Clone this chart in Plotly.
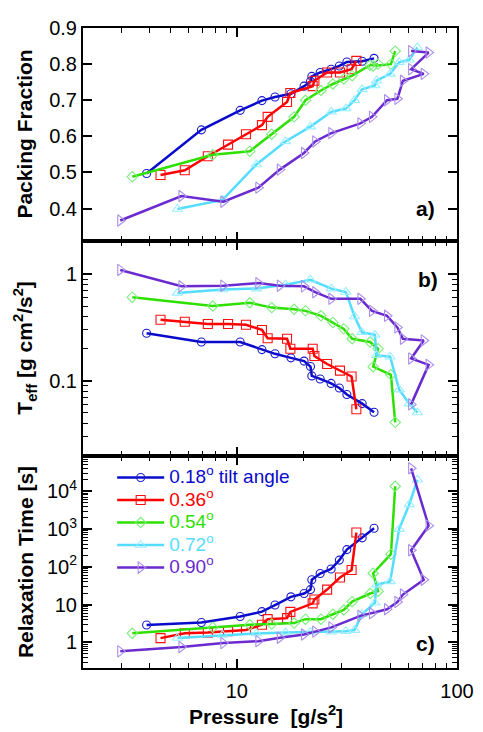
import numpy as np
import plotly.graph_objects as go
from plotly.subplots import make_subplots

# ---------------- data ----------------
labels = ["0.18<sup>o</sup> tilt angle", "0.36<sup>o</sup>", "0.54<sup>o</sup>",
          "0.72<sup>o</sup>", "0.90<sup>o</sup>"]

p_018 = [3.89, 6.9, 10.35, 13.0, 14.9, 17.6, 20.2, 21.6, 21.9, 23.9, 26.8, 29.2, 31.6, 37.1, 42.0]
phi_018 = [0.497, 0.618, 0.672, 0.699, 0.709, 0.718, 0.739, 0.752, 0.766, 0.777, 0.786, 0.795, 0.806, 0.808, 0.816]
teff_018 = [0.279, 0.231, 0.231, 0.196, 0.179, 0.164, 0.153, 0.136, 0.111, 0.104, 0.0944, 0.0856, 0.0743, 0.061, 0.0506]
tau_018 = [2.89, 3.38, 4.84, 6.53, 9.77, 16.1, 19.7, 25, 45.5, 66.5, 88, 151, 286, 586, 1048]

p_036 = [4.5, 5.8, 7.38, 9.12, 11.0, 13.0, 13.8, 16.9, 17.5, 22.1, 22.5, 25.7, 29.4, 33.2, 34.9]
phi_036 = [0.493, 0.506, 0.545, 0.577, 0.606, 0.631, 0.654, 0.695, 0.72, 0.739, 0.754, 0.777, 0.777, 0.786, 0.809]
teff_036 = [0.374, 0.358, 0.341, 0.341, 0.336, 0.30, 0.251, 0.248, 0.20, 0.20, 0.171, 0.1436, 0.1245, 0.1096, 0.054]
tau_036 = [1.3, 1.75, 1.82, 1.97, 2.14, 2.94, 4.13, 4.39, 6.42, 10.8, 13.7, 25, 52.3, 82.8, 810]

p_054 = [3.35, 7.77, 11.45, 14.4, 18.2, 20.5, 24.1, 27.3, 30.6, 33.4, 40.3, 43.8, 41.6, 50.1, 52.4]
phi_054 = [0.488, 0.549, 0.559, 0.606, 0.654, 0.70, 0.727, 0.745, 0.759, 0.768, 0.797, 0.80, 0.795, 0.80, 0.836]
teff_054 = [0.609, 0.503, 0.540, 0.486, 0.469, 0.453, 0.407, 0.353, 0.307, 0.248, 0.231, 0.20, 0.1356, 0.1136, 0.0407]
tau_054 = [1.75, 2.5, 2.94, 3.06, 3.25, 4.13, 4.13, 5.57, 7.23, 12, 19.7, 22.6, 67.7, 217, 13600]

p_072 = [5.37, 8.61, 12.27, 16.62, 21.58, 26.87, 31.27, 34.25, 37.03, 42.36, 43.1, 49.7, 54.6, 60.7, 66.1]
phi_072 = [0.399, 0.424, 0.522, 0.586, 0.627, 0.668, 0.677, 0.70, 0.73, 0.741, 0.754, 0.773, 0.805, 0.812, 0.846]
teff_072 = [0.668, 0.718, 0.733, 0.798, 0.888, 0.733, 0.682, 0.401, 0.285, 0.27, 0.174, 0.168, 0.0826, 0.061, 0.0503]
tau_072 = [1.31, 1.57, 1.72, 1.82, 1.88, 1.93, 1.99, 2.12, 5.6, 11.2, 33.8, 41.2, 1000, 4500, 20200]

p_090 = [2.953, 5.6, 8.68, 12.52, 15.67, 20.18, 22.69, 26.87, 36.4, 41.1, 48.1, 53.6, 56.8, 70.6, 61.9, 74.3, 61.9]
phi_090 = [0.367, 0.435, 0.419, 0.458, 0.508, 0.554, 0.586, 0.609, 0.636, 0.654, 0.70, 0.704, 0.754, 0.773, 0.786, 0.832, 0.836]
teff_090 = [1.098, 0.77, 0.781, 0.826, 0.781, 0.77, 0.678, 0.588, 0.588, 0.453, 0.407, 0.317, 0.248, 0.239, 0.162, 0.141, 0.06]
tau_090 = [0.58, 0.755, 0.96, 1.08, 1.33, 1.62, 1.93, 2.5, 5.05, 5.93, 7.55, 11.7, 18.5, 45.6, 275, 1230, 40700]

x_tickvals = [10, 100]
x_ticktext = ["10", "100"]
phi_tickvals = [0.4, 0.5, 0.6, 0.7, 0.8, 0.9]
teff_tickvals = [0.1, 1]
teff_ticktext = ["0.1", "1"]
tau_tickvals = [1, 10, 100, 1000, 10000]
tau_ticktext = ["1", "10", "10<sup>2</sup>", "10<sup>3</sup>", "10<sup>4</sup>"]

# ---------------- styles ----------------
line_colors = ["#0A0ACC", "#FF0000", "#2EE000", "#55DDFF", "#6A2ACF"]
marker_colors = ["#1A1ACC", "#FF1010", "#7CEE7C", "#99EEFF", "#A98EEA"]
symbols = ["circle-open", "square-open", "diamond-open", "triangle-up-open", "triangle-right-open"]
msizes = [8, 9, 8, 9, 10]

series = [
    (p_018, phi_018, teff_018, tau_018),
    (p_036, phi_036, teff_036, tau_036),
    (p_054, phi_054, teff_054, tau_054),
    (p_072, phi_072, teff_072, tau_072),
    (p_090, phi_090, teff_090, tau_090),
]

FONT = "Liberation Sans"

fig = make_subplots(rows=3, cols=1, shared_xaxes=True, vertical_spacing=0)

for i, (p, phi, teff, tau) in enumerate(series):
    for row, yv in ((1, phi), (2, teff), (3, tau)):
        fig.add_trace(go.Scatter(
            x=p, y=yv, mode="lines+markers",
            line=dict(color=line_colors[i], width=2.5),
            marker=dict(symbol=symbols[i], size=msizes[i], color=marker_colors[i],
                        line=dict(width=1.1, color=marker_colors[i])),
            name=f'<span style="font-size:19px;color:{line_colors[i]}">{labels[i]}</span>',
            showlegend=(row == 3),
        ), row=row, col=1)

def minor_log(lo_exp, hi_exp):
    vals = []
    for e in range(lo_exp, hi_exp + 1):
        for m in range(2, 10):
            vals.append(m * 10.0 ** e)
    return vals

axis_common = dict(showline=True, linewidth=2, linecolor="black", mirror="ticks",
                   ticks="inside", ticklen=9, tickwidth=1.6, tickcolor="black",
                   showgrid=False, zeroline=False, ticklabeloverflow="allow",
                   tickfont=dict(family=FONT, size=20, color="black"))

x_minor = dict(tickmode="array", tickvals=minor_log(0, 1), ticks="inside",
               ticklen=5, tickwidth=1.4, tickcolor="black", showgrid=False)

for r in (1, 2, 3):
    fig.update_xaxes(type="log", range=[np.log10(2), 2], tickmode="array",
                     tickvals=x_tickvals, ticktext=x_ticktext,
                     showticklabels=(r == 3), minor=x_minor, row=r, col=1, **axis_common)
fig.update_xaxes(ticklabelstandoff=4, row=3, col=1)

fig.update_yaxes(range=[0.31, 0.9], tickmode="array", tickvals=phi_tickvals,
                 tickformat=".1f", row=1, col=1, **axis_common)
fig.update_yaxes(type="log", range=[-1.708, 0.311], tickmode="array",
                 tickvals=teff_tickvals, ticktext=teff_ticktext,
                 minor=dict(tickmode="array", tickvals=minor_log(-2, 0), ticks="inside",
                            ticklen=5, tickwidth=1.4, tickcolor="black", showgrid=False),
                 row=2, col=1, **axis_common)
fig.update_yaxes(type="log", range=[-0.677, 4.93], tickmode="array",
                 tickvals=tau_tickvals, ticktext=tau_ticktext,
                 minor=dict(tickmode="array", tickvals=minor_log(-1, 4), ticks="inside",
                            ticklen=5, tickwidth=1.4, tickcolor="black", showgrid=False),
                 row=3, col=1, **axis_common)

fig.update_layout(
    yaxis=dict(domain=[0.667, 1.0]),
    yaxis2=dict(domain=[0.331, 0.667]),
    yaxis3=dict(domain=[0.0, 0.331]),
)

title_font = dict(family=FONT, size=21, color="black")
annots = [
    dict(text="<b>Packing Fraction</b>", x=-0.155, y=0.8335, textangle=-90),
    dict(text="<b>T<sub>eff</sub> [g cm<sup>2</sup>/s<sup>2</sup>]</b>", x=-0.155, y=0.499, textangle=-90),
    dict(text="<b>Relaxation Time [s]</b>", x=-0.155, y=0.1655, textangle=-90),
    dict(text="<b>Pressure  [g/s<sup>2</sup>]</b>", x=0.49, y=-0.074, textangle=0),
    dict(text="<b>a)</b>", x=0.915, y=0.7177, textangle=0),
    dict(text="<b>b)</b>", x=0.922, y=0.607, textangle=0),
    dict(text="<b>c)</b>", x=0.915, y=0.0384, textangle=0),
]
for a in annots:
    fig.add_annotation(xref="paper", yref="paper", showarrow=False,
                       xanchor="center", yanchor="middle", font=title_font, **a)

fig.update_layout(
    width=475, height=724,
    margin=dict(l=75, r=13, t=9, b=64),
    paper_bgcolor="white", plot_bgcolor="white",
    font=dict(family=FONT, size=20, color="black"),
    showlegend=True,
    legend=dict(x=0.078, y=0.323, xanchor="left", yanchor="top",
                bgcolor="rgba(0,0,0,0)", borderwidth=0,
                font=dict(family=FONT, size=15), itemwidth=47,
                tracegroupgap=0),
)

fig.write_html("out.html")
